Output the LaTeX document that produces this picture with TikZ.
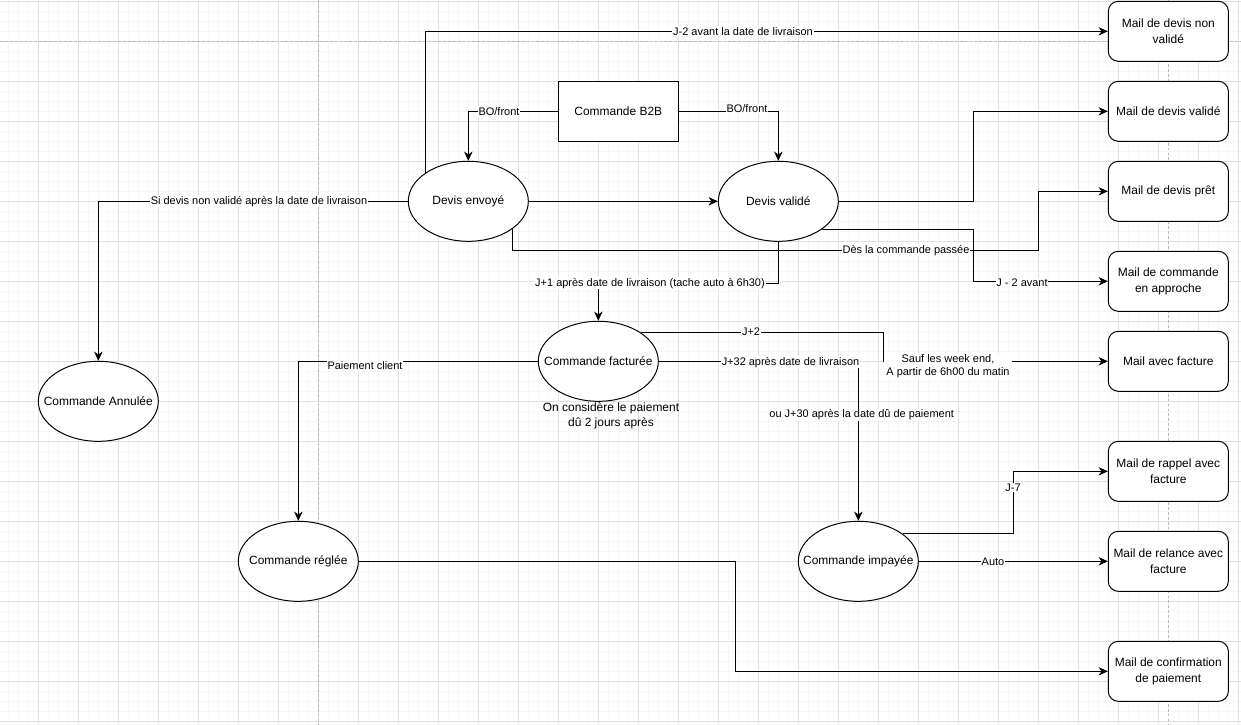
\documentclass[tikz,border=0pt]{standalone}
\usepackage{fontspec}
\setmainfont{Liberation Sans}
\usetikzlibrary{shapes.geometric,arrows.meta}
\definecolor{gmaj}{RGB}{224,224,224}
\definecolor{gmin}{RGB}{247,247,247}
\definecolor{gpage}{RGB}{185,185,185}
\begin{document}
\begin{tikzpicture}[x=0.025cm,y=-0.025cm,
  ell/.style={ellipse,draw,line width=0.7pt,fill=white,minimum width=3cm,minimum height=2cm,inner sep=0pt},
  elltext/.style={font=\fontsize{8.5}{10.4}\selectfont,inner sep=0pt},
  mail/.style={rectangle,rounded corners=0.25cm,draw,line width=0.7pt,fill=white,minimum width=3cm,minimum height=1.5cm,inner sep=1pt,font=\fontsize{8.5}{11.3}\selectfont,align=center},
  rbox/.style={rectangle,draw,line width=0.7pt,fill=white,minimum width=3cm,minimum height=1.5cm,inner sep=1pt,font=\fontsize{8.5}{10.4}\selectfont},
  conn/.style={line width=0.7pt},
  arr/.style={conn,-{Stealth[length=2.3mm,width=2.1mm,inset=0.7mm]}},
  lbl/.style={fill=white,inner sep=0.6pt,font=\fontsize{7.8}{9.6}\selectfont,align=center},
  note/.style={inner sep=0pt,font=\fontsize{8.5}{10.4}\selectfont,align=center},
]
\useasboundingbox (0,0) rectangle (1241,724);
\fill[white] (0,0) rectangle (1241,724);
% grid
\foreach \i in {0,...,123} {\draw[gmin,line width=0.6pt] ({8.3+10*\i},0) -- ({8.3+10*\i},724);}
\foreach \i in {0,...,72} {\draw[gmin,line width=0.6pt] (0,{1.3+10*\i}) -- (1241,{1.3+10*\i});}
\foreach \i in {0,...,30} {\draw[gmaj,line width=0.6pt] ({38.3+40*\i},0) -- ({38.3+40*\i},724);}
\foreach \i in {0,...,18} {\draw[gmaj,line width=0.6pt] (0,{1.3+40*\i}) -- (1241,{1.3+40*\i});}
\draw[gpage,line width=0.6pt,dash pattern=on 2pt off 1.5pt] (318.3,0) -- (318.3,724);
\draw[gpage,line width=0.6pt,dash pattern=on 2pt off 1.5pt] (1168.3,0) -- (1168.3,724);
\draw[gpage,line width=0.6pt,dash pattern=on 2pt off 1.5pt] (0,41.3) -- (1241,41.3);

% nodes
\node[ell,label={[elltext]center:Devis envoyé}] (env) at (468.3,201.3) {};
\node[ell,label={[elltext]center:Devis validé}] (dv) at (778.3,201.3) {};
\node[ell,label={[elltext]center:Commande Annulée}] (ann) at (98.3,401.3) {};
\node[ell,label={[elltext]center:Commande facturée}] (fac) at (598.3,361.3) {};
\node[ell,label={[elltext]center:Commande réglée}] (reg) at (298.3,561.3) {};
\node[ell,label={[elltext]center:Commande impayée}] (imp) at (858.3,561.3) {};
\node[rbox] (b2b) at (618.3,111.3) {Commande B2B};

\node[mail] (m1) at (1168.3,31.3) {Mail de devis non\\validé};
\node[mail] (m2) at (1168.3,111.3) {Mail de devis validé};
\node[mail] (m3) at (1168.3,191.3) {Mail de devis prêt};
\node[mail] (m4) at (1168.3,281.3) {Mail de commande\\en approche};
\node[mail] (m5) at (1168.3,361.3) {Mail avec facture};
\node[mail] (m6) at (1168.3,471.3) {Mail de rappel avec\\facture};
\node[mail] (m7) at (1168.3,561.3) {Mail de relance avec\\facture};
\node[mail] (m8) at (1168.3,671.3) {Mail de confirmation\\de paiement};

\node[note] (nt) at (611,416) {On considère le paiement\\dû 2 jours après};

% bend points
\coordinate (c6) at (1038,250.3);
\coordinate (c7) at (973,111.3);
\coordinate (c8) at (973,281.3);
\coordinate (c9) at (598.3,283.3);
\coordinate (c10) at (883,361.3);
\coordinate (c14) at (1013,471.3);
\coordinate (c16) at (735,671.3);

% connectors
\draw[arr] (env.146) |- (m1.west);
\draw[arr] (b2b.west) -| (env.north);
\draw[arr] (b2b.east) -| (dv.north);
\draw[arr] (env.east) -- (dv.west);
\draw[arr] (env.west) -| (ann.north);
\draw[arr] (env.-32.3) |- (c6) |- (m3.west);
\draw[arr] (dv.east) -| (c7) -- (m2.west);
\draw[arr] (dv.-33.2) -| (c8) -- (m4.west);
\draw[arr] (dv.south) |- (c9) -- (fac.north);
\draw[arr] (fac.34.4) -| (c10) -- (m5.west);
\draw[arr] (fac.east) -| (imp.north);
\draw[arr] (fac.west) -| (reg.north);
\draw[arr] (imp.32.1) -| (c14) -- (m6.west);
\draw[arr] (imp.east) -- (m7.west);
\draw[arr] (reg.east) -| (c16) -- (m8.west);

% labels
\node[lbl] (l1) at (743,31.3) {J-2 avant la date de livraison};
\node[lbl] (l2) at (499,111.3) {BO/front};
\node[lbl] (l3) at (747,109) {BO/front};
\node[lbl] (l5) at (259,201.3) {Si devis non validé après la date de livraison};
\node[lbl] (l6) at (906,250.3) {Dès la commande passée};
\node[lbl] (l8) at (1022,282.3) {J - 2 avant};
\node[lbl] (l9) at (650,283.3) {J+1 après date de livraison (tache auto à 6h30)};
\node[lbl] (l10a) at (751,331.5) {J+2};
\node[lbl,inner xsep=2pt] (l10b) at (948,366) {Sauf les week end,\\A partir de 6h00 du matin};
\node[lbl] (l11a) at (790.5,362.3) {J+32 après date de livraison};
\node[lbl] (l11b) at (861.7,415) {ou J+30 après la date dû de paiement};
\node[lbl] (l12) at (365,366) {Paiement client};
\node[lbl] (l14) at (1013,487.7) {J-7};
\node[lbl] (l15) at (993,561.3) {Auto};
\end{tikzpicture}
\end{document}
